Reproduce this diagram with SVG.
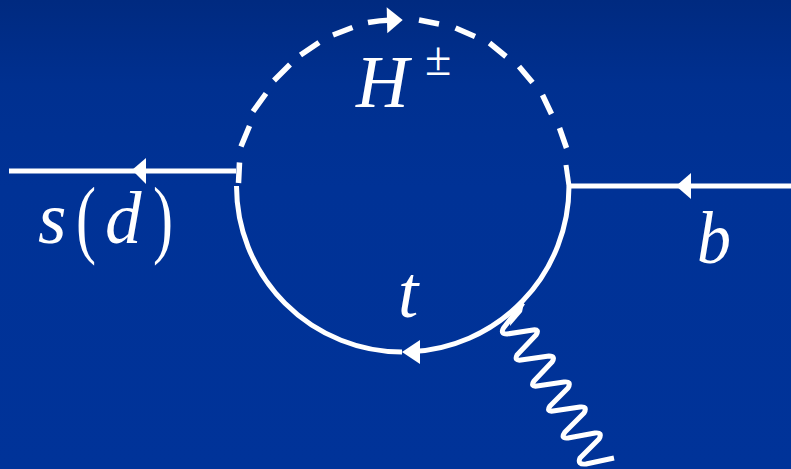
<svg xmlns="http://www.w3.org/2000/svg" width="791" height="469" viewBox="0 0 791 469">
<defs>
<linearGradient id="bg" x1="0" y1="0" x2="0" y2="1"><stop offset="0" stop-color="#002a80"/><stop offset="0.18" stop-color="#003090"/><stop offset="0.4" stop-color="#003296"/><stop offset="1" stop-color="#003399"/></linearGradient>
</defs>
<style>
.l{fill:none;stroke:#fff;stroke-width:5}
.a{fill:#fff}
.t{font-family:"Liberation Serif","Times New Roman",Times,serif;fill:#fff}
.i{font-style:italic;font-size:73px}
</style>
<rect width="791" height="469" fill="url(#bg)"/>
<g id="connectors">
<g id="scalar-loop">
<path class="l" style="stroke-width:5.5" d="M238.500 183L239.500 162.500M241 146.500L249.500 126M253 111.500L266 93.500M274 80.500L290 64.500M300.500 55L319 42.500M333 35L352.500 27.500M368 22.500Q379 20.500 392 20M419 20L439 24M455.500 28L475 36.500M489.500 43L506 56.500M519 66.500L532.500 82.500M542.500 95L551.500 114M559.500 128L566.500 148"/>
<path class="l" d="M566 165L569 186"/>
<polygon class="a" points="402.700,20 386.700,7.300 387.300,33.300"/>
</g>
<g id="top-loop">
<path class="l" d="M236.500 186A166 166 0 0 0 402 352"/>
<path class="l" d="M569 186A166 166 0 0 1 410 351.800"/>
<polygon class="a" points="402,352 420,340 420,364"/>
</g>
<g id="s-line">
<path class="l" d="M9 171H236"/>
<polygon class="a" points="132,170 146,158 146,184"/>
</g>
<g id="b-line">
<path class="l" d="M569 186H791"/>
<polygon class="a" points="676,186 691,173 691,199"/>
</g>
<g id="photon">
<path class="l" stroke-linejoin="round" d="M523 303L503.500 328Q500 334 507 334L533 330Q540 329 536 335L517 355Q514 361 521 360L549 356Q556 356 552 362L534 381Q530 387 537 386L564 382Q572 381 568 388L550 406Q546 412 553 411L580 407Q588 406 584 413L565 432Q560 439 568 438L595 433Q603 432 599 439L580 458Q577 465 586 464L614 458"/>
<polygon class="a" points="511,310 524,303 522,312 510,326"/>
</g>
</g>
<g id="label-H"><text class="t i" x="356" y="107">H</text><text class="t" x="425" y="75" font-size="48">±</text></g>
<g id="label-sd"><text class="t i" x="38" y="243">s</text><text class="t" transform="translate(76 247) scale(0.7 1)" font-size="86">(</text><text class="t i" x="105" y="243">d</text><text class="t" transform="translate(153 247) scale(0.7 1)" font-size="86">)</text></g>
<g id="label-t"><text class="t i" x="398" y="317">t</text></g>
<g id="label-b"><text class="t i" x="697" y="263" textLength="34" lengthAdjust="spacingAndGlyphs">b</text></g>
</svg>
